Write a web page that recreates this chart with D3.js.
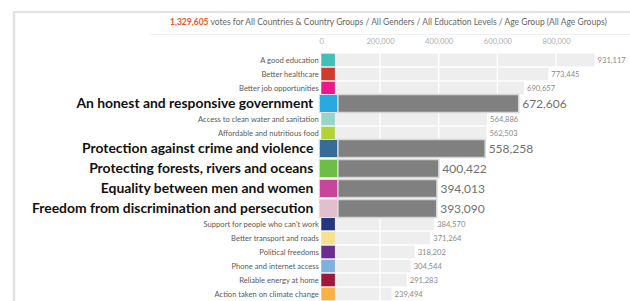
<!DOCTYPE html>
<html>
<head>
<meta charset="utf-8">
<script src="https://cdn.jsdelivr.net/npm/d3@7"></script>
<style>
  body { margin: 0; background: #fff; }
  svg { display: block; font-family: Lato, "Open Sans", sans-serif; }
</style>
</head>
<body>
<svg id="chart"></svg>
<script>
const totalVotes = "1,329,605"
const subtitle = " votes for All Countries & Country Groups / All Genders / All Education Levels / Age Group (All Age Groups)"

const categories = [
    "A good education",
    "Better healthcare",
    "Better job opportunities",
    "An honest and responsive government",
    "Access to clean water and sanitation",
    "Affordable and nutritious food",
    "Protection against crime and violence",
    "Protecting forests, rivers and oceans",
    "Equality between men and women",
    "Freedom from discrimination and persecution",
    "Support for people who can't work",
    "Better transport and roads",
    "Political freedoms",
    "Phone and internet access",
    "Reliable energy at home",
    "Action taken on climate change"
]
const votes = [931117, 773445, 690657, 672606, 564886, 562503, 558258, 400422,
    394013, 393090, 384570, 371264, 318202, 304544, 291283, 239494]
const highlighted = [
    "An honest and responsive government",
    "Protection against crime and violence",
    "Protecting forests, rivers and oceans",
    "Equality between men and women",
    "Freedom from discrimination and persecution"
]
const colors = ["#43bfb7", "#d13a2c", "#e8198b", "#2aa9e1", "#95d5ca", "#b3d23a",
    "#376c98", "#6dbd47", "#c7469b", "#e2bfcd", "#23367f", "#f8e08e",
    "#6b2d8e", "#7db3da", "#a1183c", "#fbb043"]
const tickValues = [0, 200000, 400000, 600000, 800000]

const width = 630,
    height = 301

const svg = d3.select("#chart")
    .attr("width", width)
    .attr("height", height)

const isBig = (c) => highlighted.includes(c)

// frame
svg.append("line")
    .attr("x1", 13).attr("x2", width).attr("y1", 12).attr("y2", 12)
    .style("stroke", "#e2e2e2").style("stroke-width", 2)
svg.append("line")
    .attr("x1", 14).attr("x2", 14).attr("y1", 12).attr("y2", height)
    .style("stroke", "#e2e2e2").style("stroke-width", 2.5)
svg.append("line")
    .attr("x1", 150).attr("x2", width).attr("y1", 34.5).attr("y2", 34.5)
    .style("stroke", "#f1f1f1").style("stroke-width", 1)

// title
const title = svg.append("text")
    .attr("x", 170)
    .attr("y", 25)
    .style("font-size", "8.5px")
title.append("tspan")
    .text(totalVotes)
    .style("font-weight", "bold")
    .style("fill", "#f2522a")
title.append("tspan")
    .text(subtitle)
    .style("fill", "#666")

// row layout
let yPos = 53
const tops = []
categories.forEach((c, i) => {
    const big = isBig(c)
    if (big && i > 0 && isBig(categories[i - 1])) yPos += 3
    tops.push(yPos)
    yPos += big ? 17 : 14
})
const y = d3.scaleOrdinal().domain(categories).range(tops)

const x = d3.scaleLinear()
    .domain([0, 1000000])
    .range([321.3, 614.8])

const rows = categories.map((c, i) => ({ name: c, value: votes[i], color: colors[i], big: isBig(c) }))
const smallRows = rows.filter(d => !d.big)
const bigRows = rows.filter(d => d.big)

// axis
const axis = svg.append("g")
    .attr("transform", "translate(0,47)")
    .call(d3.axisTop(x).tickValues(tickValues).tickFormat(d3.format(",")).tickSize(0))
axis.select(".domain").remove()
axis.selectAll("text")
    .style("font-family", "Lato, sans-serif")
    .style("font-size", "7.6px")
    .style("fill", "#b0b0b0")

// light bars
svg.selectAll(".bar")
    .data(smallRows)
    .enter()
    .append("rect")
    .attr("class", "bar")
    .attr("x", x(0))
    .attr("y", d => y(d.name) + 0.7)
    .attr("width", d => x(d.value) - x(0))
    .attr("height", 12.6)
    .attr("fill", "#eeeeee")

// gridlines over the light bars
svg.selectAll(".grid")
    .data(tickValues.slice(1))
    .enter()
    .append("line")
    .attr("class", "grid")
    .attr("x1", d => x(d)).attr("x2", d => x(d))
    .attr("y1", tops[0]).attr("y2", height)
    .style("stroke", "#fff")
    .style("stroke-width", 1.3)

svg.selectAll(".swatch")
    .data(smallRows)
    .enter()
    .append("rect")
    .attr("class", "swatch")
    .attr("x", x(0))
    .attr("y", d => y(d.name) + 0.7)
    .attr("width", 13.6)
    .attr("height", 12.6)
    .attr("fill", d => d.color)

svg.selectAll(".label")
    .data(smallRows)
    .enter()
    .append("text")
    .attr("class", "label")
    .attr("x", x(0) - 2.5)
    .attr("y", d => y(d.name) + 7)
    .attr("dy", "0.35em")
    .attr("text-anchor", "end")
    .style("font-size", "7.6px")
    .style("fill", "#5a5a5a")
    .text(d => d.name)

svg.selectAll(".value")
    .data(smallRows)
    .enter()
    .append("text")
    .attr("class", "value")
    .attr("x", d => x(d.value) + 3)
    .attr("y", d => y(d.name) + 7)
    .attr("dy", "0.35em")
    .style("font-size", "7.6px")
    .style("fill", "#8a8a8a")
    .text(d => d3.format(",")(d.value))

// highlighted rows
svg.selectAll(".bigbar")
    .data(bigRows)
    .enter()
    .append("rect")
    .attr("class", "bigbar")
    .attr("x", x(0) + 16.5)
    .attr("y", d => y(d.name) - 0.5)
    .attr("width", d => x(d.value) - x(0) - 16.5)
    .attr("height", 18)
    .attr("fill", "#808080")
    .style("stroke", "#d6d6d6")
    .style("stroke-width", 1.5)

svg.selectAll(".bigswatch")
    .data(bigRows)
    .enter()
    .append("rect")
    .attr("class", "bigswatch")
    .attr("x", x(0) - 2)
    .attr("y", d => y(d.name) - 0.5)
    .attr("width", 18.4)
    .attr("height", 18)
    .attr("fill", d => d.color)
    .style("stroke", "#e0e0e0")
    .style("stroke-width", 1)

svg.selectAll(".biglabel")
    .data(bigRows)
    .enter()
    .append("text")
    .attr("class", "biglabel")
    .attr("x", x(0) - 8)
    .attr("y", d => y(d.name) + 8.5)
    .attr("dy", "0.35em")
    .attr("text-anchor", "end")
    .style("font-size", "13.9px")
    .style("font-weight", "bold")
    .style("fill", "#111")
    .text(d => d.name)

svg.selectAll(".bigvalue")
    .data(bigRows)
    .enter()
    .append("text")
    .attr("class", "bigvalue")
    .attr("x", d => x(d.value) + 3.5)
    .attr("y", d => y(d.name) + 8.5)
    .attr("dy", "0.35em")
    .style("font-size", "12px")
    .style("fill", "#707070")
    .text(d => d3.format(",")(d.value))
</script>
</body>
</html>
